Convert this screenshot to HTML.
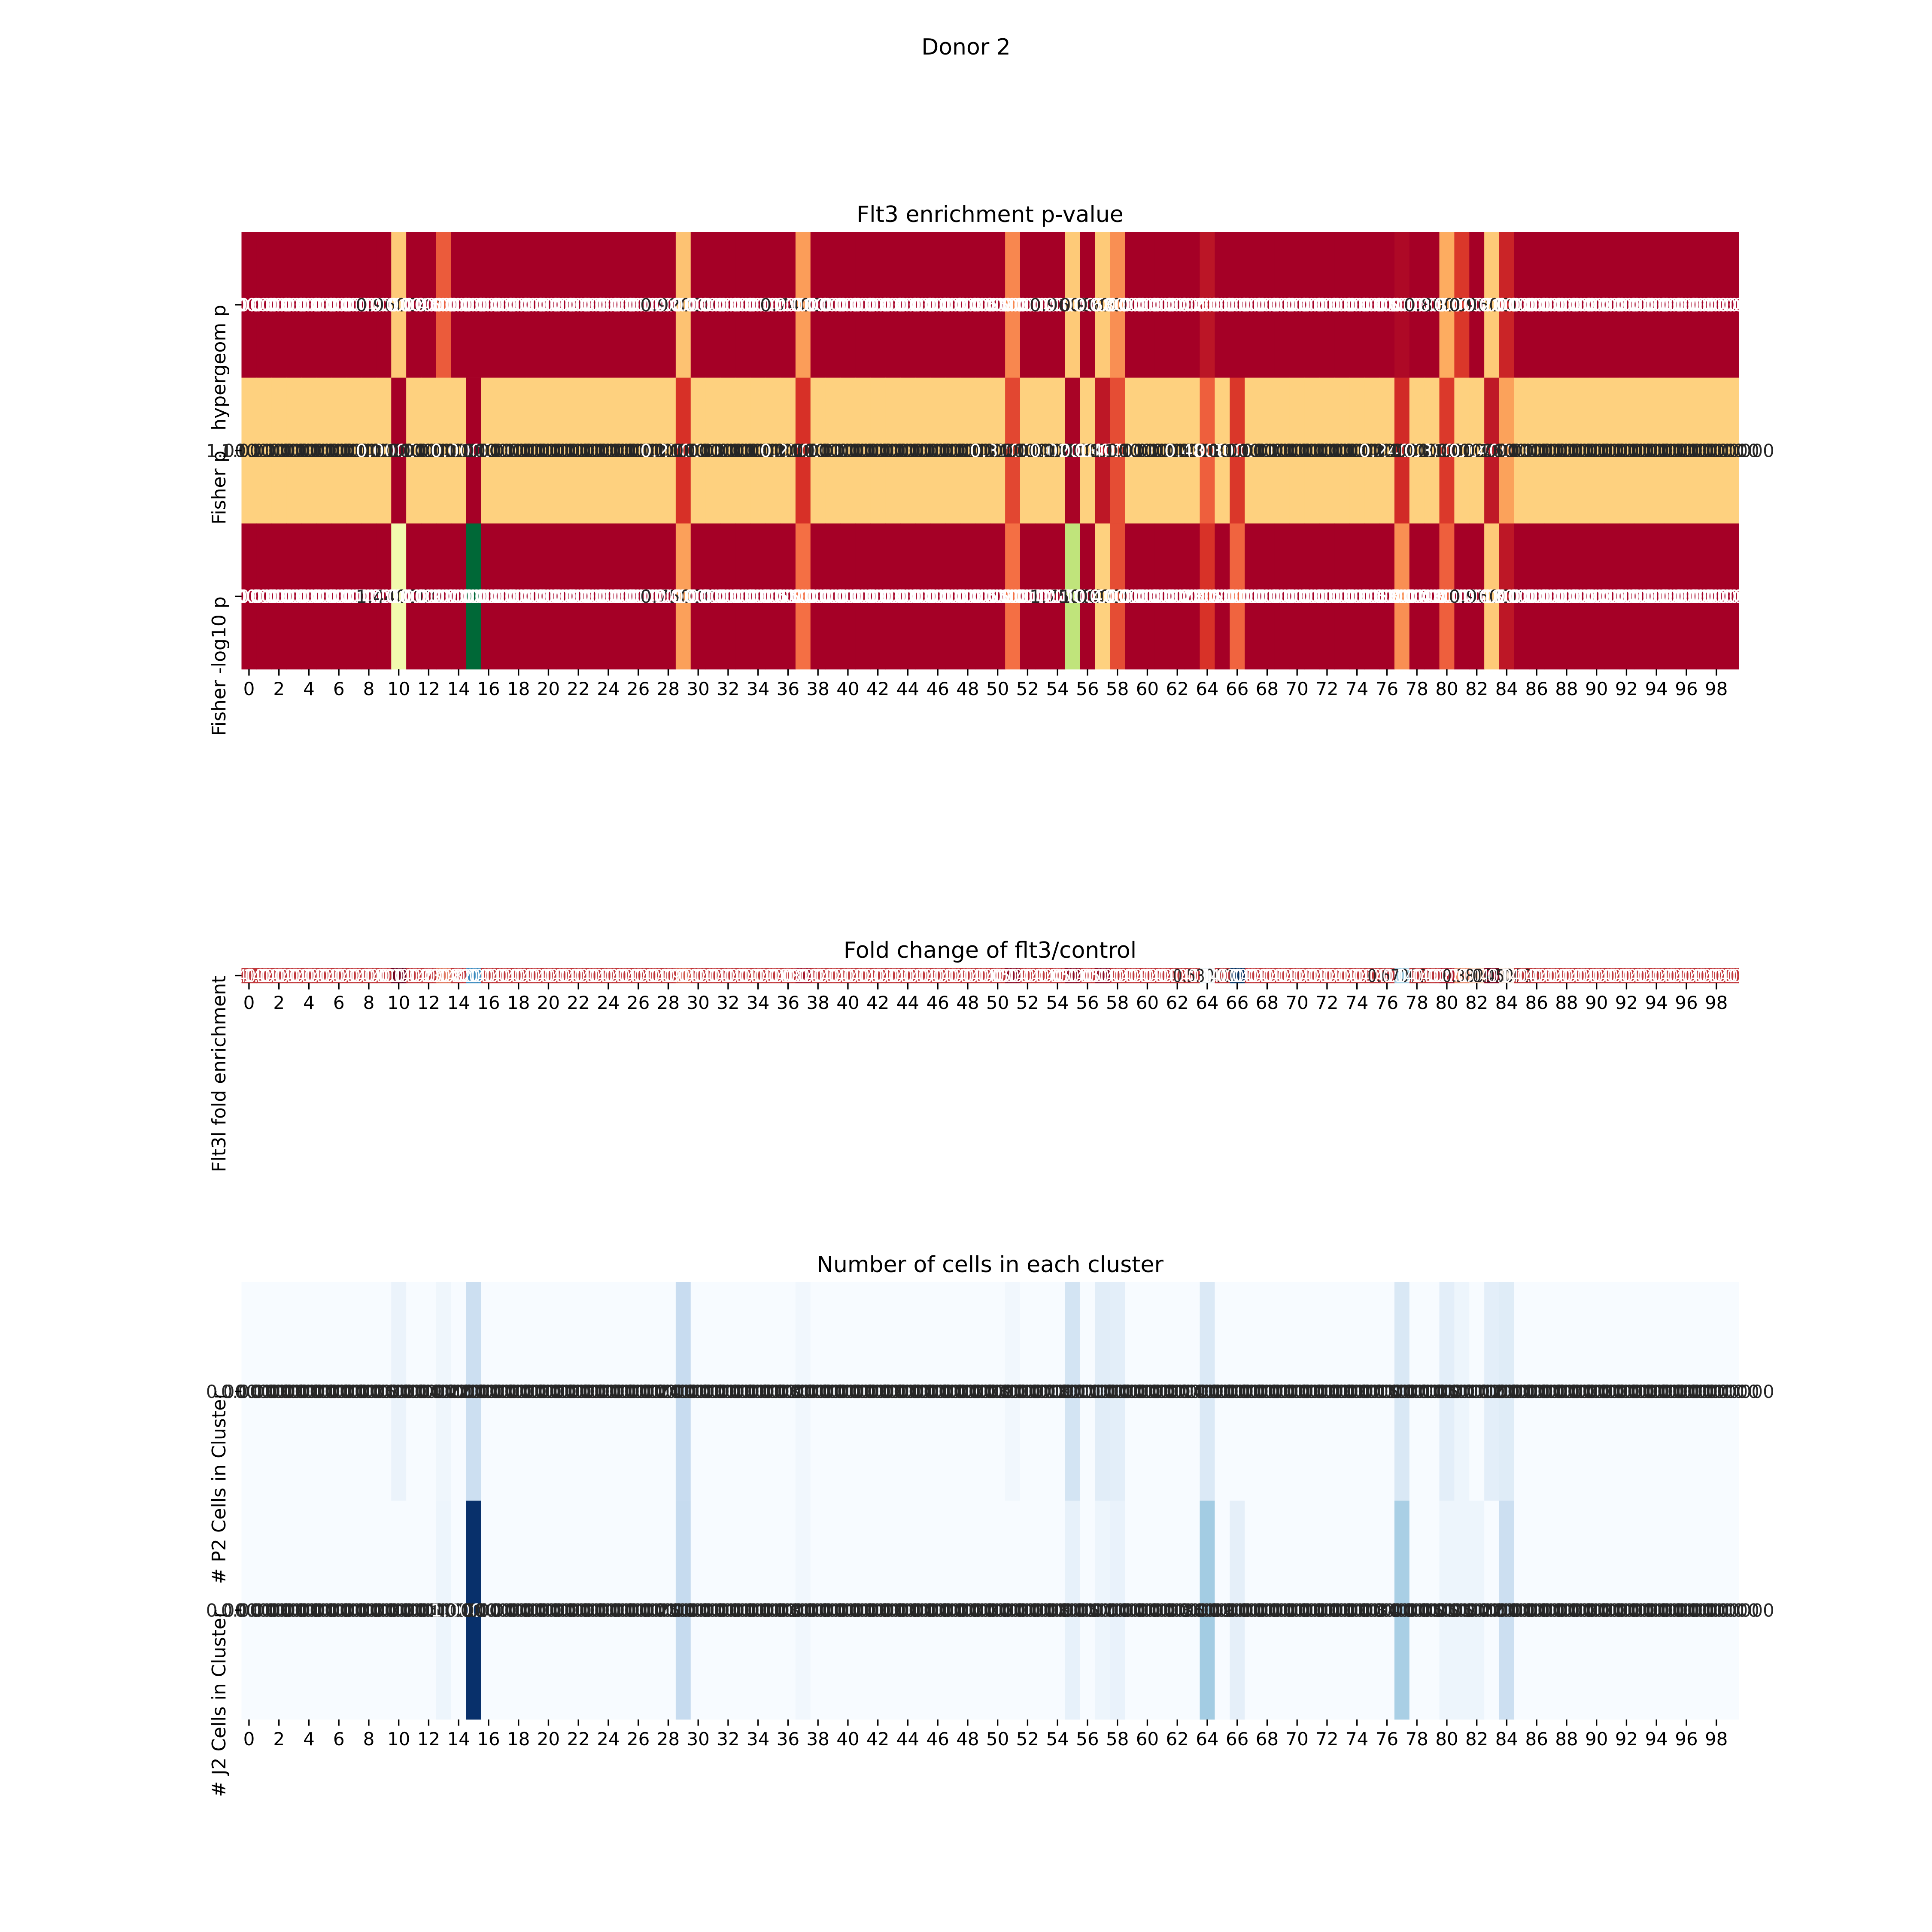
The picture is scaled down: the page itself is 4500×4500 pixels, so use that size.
<!DOCTYPE html>
<html><head><meta charset="utf-8"><style>
html,body{margin:0;padding:0;background:#fff}
svg{display:block}
text{font-family:"DejaVu Sans","Liberation Sans",sans-serif}
</style></head><body>
<svg id="fig" width="4500" height="4500" viewBox="0 0 4500 4500" xmlns="http://www.w3.org/2000/svg">
<rect width="4500" height="4500" fill="#fff"/>
<text x="2250" y="127" font-size="52" text-anchor="middle">Donor 2</text>
<text x="2306" y="517" font-size="52" text-anchor="middle">Flt3 enrichment p-value</text>
<text x="2306" y="2231" font-size="52" text-anchor="middle">Fold change of flt3/control</text>
<text x="2306" y="2963" font-size="52" text-anchor="middle">Number of cells in each cluster</text>
<g id="g1"></g>
<g id="g2"></g>
<g id="g3"></g>
</svg>
<script>
// ---- data (100 clusters) ----
const clusters = Array.from({length:100},(_, i)=>i);
const hyperP = {10:0.96,13:0.46,29:0.92,37:0.74,51:0.65,55:0.96,57:0.96,58:0.68,64:0.12,77:0.05,80:0.80,81:0.30,83:0.96,84:0.20};
const fisherP = {10:0,15:0,29:0.27,37:0.27,51:0.37,55:0.02,57:0.13,58:0.40,64:0.48,66:0.30,77:0.24,80:0.31,83:0.14,84:0.76};
const fisherLog = {10:1.44,15:2.7,29:0.75,37:0.55,51:0.55,55:1.75,57:1.0,58:0.40,64:0.28,66:0.50,77:0.68,80:0.48,83:0.96,84:0.13};
const foldVals = {10:0.01,13:0.23,15:0.82,29:0.19,37:0.08,51:0.05,55:0.05,57:0.05,64:0.53,66:1.0,77:0.67,80:0.10,81:0.27,82:0.38,83:0.04,84:0.45};
const p2Cells = {10:0.06,13:0.04,15:0.22,29:0.24,37:0.03,51:0.03,55:0.18,57:0.11,58:0.10,64:0.14,77:0.15,80:0.10,81:0.05,83:0.10,84:0.12};
const j2Cells = {13:0.05,15:1.0,29:0.25,37:0.03,55:0.08,57:0.05,58:0.07,64:0.36,66:0.09,77:0.34,80:0.05,81:0.05,82:0.05,84:0.22};
const rowLabels1 = ["hypergeom p","Fisher p","Fisher -log10 p"];
const rowLabels3 = ["# P2 Cells in Cluster","# J2 Cells in Cluster"];
const foldLabel = "Flt3l fold enrichment";
const tickLabels = clusters.filter(c=>c%2===0).map(String);

function full(obj, def){return clusters.map(c=> (c in obj)?obj[c]:def);}
const row1 = full(hyperP,0), row2 = full(fisherP,1), row3 = full(fisherLog,0);
const foldRow = full(foldVals,0.14);
const p2Row = full(p2Cells,0), j2Row = full(j2Cells,0);

// ---- colormaps ----
const RdYlGn=["#a50026","#d73027","#f46d43","#fdae61","#fee08b","#ffffbf","#d9ef8b","#a6d96a","#66bd63","#1a9850","#006837"];
const RdBu=["#67001f","#b2182b","#d6604d","#f4a582","#fddbc7","#f7f7f7","#d1e5f0","#92c5de","#4393c3","#2166ac","#053061"];
const Blues=["#f7fbff","#deebf7","#c6dbef","#9ecae1","#6baed6","#4292c6","#2171b5","#08519c","#08306b"];
function hex(h){return [1,3,5].map(i=>parseInt(h.substr(i,2),16));}
function cmap(stops,t){t=Math.max(0,Math.min(1,t));const n=stops.length-1;const f=t*n;let i=Math.floor(f);if(i>=n)i=n-1;const r=f-i;const a=hex(stops[i]),b=hex(stops[i+1]);return a.map((v,k)=>Math.round(v+(b[k]-v)*r));}
function rgb(c){return `rgb(${c[0]},${c[1]},${c[2]})`;}
function lum(c){const l=c.map(v=>{v/=255;return v<=0.03928?v/12.92:Math.pow((v+0.055)/1.055,2.4);});return 0.2126*l[0]+0.7152*l[1]+0.0722*l[2];}

const NS="http://www.w3.org/2000/svg";
const X0=562.5, X1=4050, CW=(X1-X0)/100;
function xScale(c){return X0+c*CW;}
function mk(tag,attrs,parent){const e=document.createElementNS(NS,tag);for(const k in attrs)e.setAttribute(k,attrs[k]);parent.appendChild(e);return e;}

function heatmap(g, rows, labels, y0, rowH, stops, vmax, name, annX){
  rows.forEach((row,r)=>{
    const y=y0+r*rowH;
    row.forEach((v,c)=>{
      const col=cmap(stops,v/vmax);
      const rc=mk('rect',{x:xScale(c),y:y,width:CW+0.6,height:rowH+0.3,fill:rgb(col)},g);
      
      
    });
    row.forEach((v,c)=>{
      const col=cmap(stops,v/vmax);
      const cx=xScale(c)+CW/2;
      const t=mk('text',{x:0,y:0,'font-size':42,'text-anchor':'middle',fill:lum(col)>0.408?'#262626':'#ffffff',transform:`translate(${cx},${y+rowH/2+15}) scale(${annX},1)`},g);
      t.textContent=v.toFixed(6);
      
      
    });
    const yc=y+rowH/2;
    const tk=mk('line',{x1:X0-14.6,x2:X0,y1:yc,y2:yc,stroke:'#000','stroke-width':3.3},g);
    
    
    const lt=mk('text',{x:0,y:0,'font-size':44,'text-anchor':'end',transform:`translate(525,${yc}) rotate(-90)`},g);
    lt.textContent=labels[r];
    
    
  });
  const yb=y0+rows.length*rowH;
  clusters.forEach(c=>{
    if(c%2) return;
    const cx=xScale(c)+CW/2;
    const l=mk('line',{x1:cx,x2:cx,y1:yb,y2:yb+14.6,stroke:'#000','stroke-width':3.3},g);
    
    
    const t=mk('text',{x:cx,y:yb+60,'font-size':42,'text-anchor':'middle'},g);
    t.textContent=tickLabels[c/2];
    
    
  });
}
heatmap(document.getElementById('g1'),[row1,row2,row3],rowLabels1,540,1019/3,RdYlGn,2.7,'pvalue',1);
heatmap(document.getElementById('g2'),[foldRow],[foldLabel],2255,34.9,RdBu,1.0,'fold',0.8);
heatmap(document.getElementById('g3'),[p2Row,j2Row],rowLabels3,2986,1019/2,Blues,1.0,'cells',1);
</script>
</body></html>
